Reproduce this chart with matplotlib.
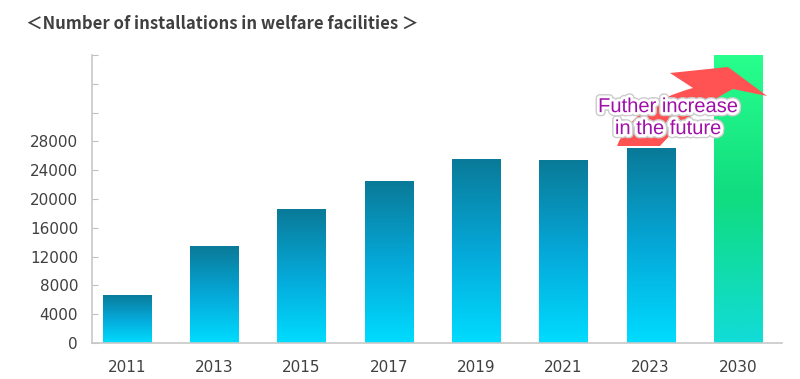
import numpy as np
import matplotlib.pyplot as plt
from matplotlib.path import Path
from matplotlib.patches import PathPatch
from matplotlib.colors import LinearSegmentedColormap
import matplotlib.patheffects as pe

plt.rcParams['font.family'] = ['DejaVu Sans']

# data
years = ["2011", "2013", "2015", "2017", "2019", "2021", "2023", "2030"]
values = [6700, 13450, 18600, 22450, 25500, 25400, 27050, 40000]
yticks = [0, 4000, 8000, 12000, 16000, 20000, 24000, 28000]
extra_ticks = [32000, 36000, 40000]

blue_cmap = LinearSegmentedColormap.from_list("blue", ["#00dcff", "#05a8d8", "#0a7a98"])
green_cmap = LinearSegmentedColormap.from_list("green", ["#12dcd8", "#10dc80", "#28ff8c"])

W, H = 800, 379
fig = plt.figure(figsize=(W / 100, H / 100), dpi=100)
ax = fig.add_axes([0.115, 0.095, 0.862, 0.76])

x = np.arange(len(years))
bars = ax.bar(x, values, width=0.55, color="none", edgecolor="none")
grad = np.linspace(0, 1, 256).reshape(-1, 1)
for i, b in enumerate(bars):
    cmap = green_cmap if years[i] == "2030" else blue_cmap
    x0, w, h = b.get_x(), b.get_width(), b.get_height()
    im = ax.imshow(grad, cmap=cmap, origin="lower", aspect="auto",
                   extent=[x0, x0 + w, 0, h], zorder=2)
    im.set_clip_path(b)

ax.set_xlim(-0.4, 7.5)
ax.set_ylim(0, 40000)
ax.set_xticks(x)
ax.set_xticklabels(years)
ax.set_yticks(yticks + extra_ticks)
ax.set_yticklabels([str(v) for v in yticks] + [""] * len(extra_ticks))
ax.tick_params(axis="y", direction="in", length=4, color="#c0c0c0",
               labelsize=11, labelcolor="#404040", pad=10)
ax.tick_params(axis="x", length=0, labelsize=11, labelcolor="#404040", pad=12)
for s in ["top", "right"]:
    ax.spines[s].set_visible(False)
for s in ["left", "bottom"]:
    ax.spines[s].set_color("#c8c8c8")
    ax.spines[s].set_linewidth(1.2)

# decorative curved red arrow (outline in pixel units, top-left origin)
arrow_px = [(617, 146), (633, 104), (693, 88), (670, 73), (728, 67),
            (767, 96), (733, 89), (692, 110), (660, 146), (617, 146)]
codes = [Path.MOVETO, Path.CURVE3, Path.CURVE3, Path.LINETO, Path.LINETO,
         Path.LINETO, Path.LINETO, Path.CURVE3, Path.CURVE3, Path.CLOSEPOLY]
verts = [(px / W, 1 - py / H) for px, py in arrow_px]
ax.add_patch(PathPatch(Path(verts, codes), transform=fig.transFigure,
                       facecolor="#ff5252", edgecolor="none", zorder=3, clip_on=False))

ax.text(6.2, 31300, "Futher increase\nin the future", ha="center", va="center",
        fontsize=14.5, color="#a010a8", linespacing=1.2, zorder=4,
        family=["Liberation Sans", "DejaVu Sans"],
        path_effects=[pe.withStroke(linewidth=6, foreground="#cccccc"),
                      pe.withStroke(linewidth=4, foreground="white")])

fig.text(0.033, 0.938, "＜Number of installations in welfare facilities ＞",
         fontsize=12, fontweight="bold", color="#404040", va="center",
         family=["Noto Sans CJK JP", "DejaVu Sans"])

fig.savefig("out.png", dpi=100)
